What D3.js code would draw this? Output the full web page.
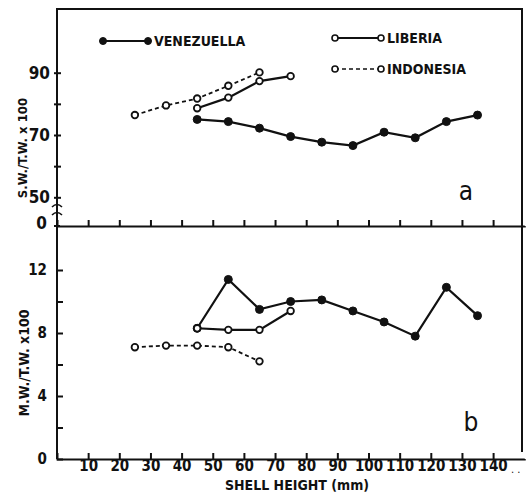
<!DOCTYPE html>
<html>
  <head>
  <title>Shell weight ratios</title>
  </head>
  <body>

  <svg id="svg" width="528" height="497"></svg>

  <script src="https://d3js.org/d3.v7.min.js"></script>
  <script>
        // shell height (mm) for each series
        const venHeights = [45, 55, 65, 75, 85, 95, 105, 115, 125, 135]
        const libHeights = [45, 55, 65, 75]
        const indHeights = [25, 35, 45, 55, 65]

        // panel a : S.W./T.W. x 100
        const venSW = [75.0, 74.3, 72.2, 69.5, 67.7, 66.6, 70.9, 69.1, 74.3, 76.4]
        const libSW = [78.6, 82.0, 87.3, 88.9]
        const indSW = [76.4, 79.5, 81.7, 85.8, 90.1]

        // panel b : M.W./T.W. x 100
        const venMW = [8.3, 11.4, 9.5, 10.0, 10.1, 9.4, 8.7, 7.8, 10.9, 9.1]
        const libMW = [8.3, 8.2, 8.2, 9.4]
        const indMW = [7.1, 7.2, 7.2, 7.1, 6.2]

        const xTicks = [10, 20, 30, 40, 50, 60, 70, 80, 90, 100, 110, 120, 130, 140]
        const topTicks = [50, 60, 70, 80, 90]
        const botTicks = [0, 2, 4, 6, 8, 10, 12]

        const font = "'DejaVu Sans Condensed', 'DejaVu Sans', sans-serif"
        const ink = '#111'

        const svg = d3.select('#svg')
        svg.append('rect').attr('width', 528).attr('height', 497).attr('fill', 'white')

        const x = d3.scaleLinear().domain([0, 150]).range([57, 524.25])
        const yTop = d3.scaleLinear().domain([50, 90]).range([197.3, 72.7])
        const yBot = d3.scaleLinear().domain([0, 12]).range([459, 270])

        const divY = 226
        const axY = 459

        // frame
        svg.append('path')
            .attr('d', `M57,${divY} V9 H522 V452`)
            .attr('fill', 'none').attr('stroke', ink).attr('stroke-width', 2)

        // x axes (ticks point up, inside)
        const xTopAxis = d3.axisBottom(x).tickValues(xTicks).tickSize(-6).tickFormat('')
        svg.append('g').attr('transform', `translate(0,${divY})`).call(xTopAxis)
        const xBotAxis = d3.axisBottom(x).tickValues(xTicks).tickSize(-6).tickPadding(1)
        svg.append('g').attr('class', 'xb').attr('transform', `translate(0,${axY})`).call(xBotAxis)

        // y axis, panel a
        const yTopAxis = d3.axisLeft(yTop).tickValues(topTicks).tickSize(4)
            .tickFormat(d => (d - 50) % 20 === 0 ? d : '')
        const gTop = svg.append('g').attr('class', 'yt').attr('transform', 'translate(57,0)').call(yTopAxis)
        gTop.select('.domain').remove()
        gTop.selectAll('.tick line').attr('x1', -3).attr('x2', 4)

        // y axis, panel b
        const yBotAxis = d3.axisLeft(yBot).tickValues(botTicks).tickSize(-6).tickPadding(10)
            .tickFormat(d => d % 4 === 0 ? d : '')
        const gBot = svg.append('g').attr('class', 'yb').attr('transform', 'translate(57,0)').call(yBotAxis)
        gBot.select('.domain').remove()

        svg.selectAll('.domain').attr('stroke', ink).attr('stroke-width', 2)
            .attr('d', function() { return d3.select(this).attr('d').replace(/V-?6/g, 'V0') })
        svg.selectAll('.tick line').attr('stroke', ink).attr('stroke-width', 2)
        svg.selectAll('.tick text').attr('fill', ink).style('font-family', font).style('font-weight', 'bold')
        svg.selectAll('.xb .tick text').style('font-size', '15px')
        svg.selectAll('.yt .tick text').style('font-size', '17px')
        svg.selectAll('.yb .tick text').style('font-size', '15px')

        // left axis line with break
        svg.append('path')
            .attr('d', `M57,9 V205 M57,214 V${axY}`)
            .attr('stroke', ink).attr('stroke-width', 2).attr('fill', 'none')
        svg.append('path')
            .attr('d', 'M52,207 Q57,202 62,207 M52,215 Q57,210 62,215')
            .attr('stroke', ink).attr('stroke-width', 1.6).attr('fill', 'none')
        svg.append('line').attr('x1', 54).attr('x2', 60).attr('y1', divY).attr('y2', divY)
            .attr('stroke', ink).attr('stroke-width', 2)
        svg.append('text').attr('x', 47).attr('y', divY - 2).text('0')
            .attr('text-anchor', 'end').attr('dominant-baseline', 'middle')
            .style('font-family', font).style('font-weight', 'bold').style('font-size', '17px').attr('fill', ink)
        svg.append('text').attr('x', 511).attr('y', axY + 11).text('. .')
            .attr('dominant-baseline', 'middle')
            .style('font-family', font).style('font-size', '11px').attr('fill', ink)

        // axis titles
        svg.append('text').attr('transform', 'translate(23,148) rotate(-90)')
            .attr('text-anchor', 'middle').attr('dominant-baseline', 'middle')
            .style('font-family', font).style('font-weight', 'bold').style('font-size', '13px')
            .attr('fill', ink).text('S.W./T.W. x 100')
        svg.append('text').attr('transform', 'translate(25,363) rotate(-90)')
            .attr('text-anchor', 'middle').attr('dominant-baseline', 'middle')
            .style('font-family', font).style('font-weight', 'bold').style('font-size', '14px')
            .attr('fill', ink).text('M.W./T.W. x100')
        svg.append('text').attr('x', 297).attr('y', 490)
            .attr('text-anchor', 'middle')
            .style('font-family', font).style('font-weight', 'bold').style('font-size', '14px')
            .attr('fill', ink).text('SHELL HEIGHT (mm)')

        // panel letters
        svg.append('text').attr('x', 466).attr('y', 200).attr('text-anchor', 'middle')
            .style('font-family', font).style('font-size', '26px').attr('fill', ink).text('a')
        svg.append('text').attr('x', 471).attr('y', 431).attr('text-anchor', 'middle')
            .style('font-family', font).style('font-size', '26px').attr('fill', ink).text('b')

        function drawSeries(heights, values, yscale, filled, dashed) {
            const pts = heights.map((h, i) => [h, values[i]])
            const linegen = d3.line()
                .x(d => x(d[0]))
                .y(d => yscale(d[1]))
                .curve(d3.curveLinear)
            svg.append('path')
                .attr('d', linegen(pts))
                .attr('stroke', ink)
                .attr('stroke-width', dashed ? 1.8 : 2.2)
                .attr('stroke-dasharray', dashed ? '4,3' : null)
                .attr('fill', 'none')
            svg.append('g').selectAll('circle').data(pts).join('circle')
                .attr('cx', d => x(d[0]))
                .attr('cy', d => yscale(d[1]))
                .attr('r', filled ? 4 : 3.3)
                .attr('fill', filled ? ink : 'white')
                .attr('stroke', ink)
                .attr('stroke-width', filled ? 1 : 1.8)
        }

        drawSeries(venHeights, venSW, yTop, true, false)
        drawSeries(indHeights, indSW, yTop, false, true)
        drawSeries(libHeights, libSW, yTop, false, false)
        drawSeries(venHeights, venMW, yBot, true, false)
        drawSeries(indHeights, indMW, yBot, false, true)
        drawSeries(libHeights, libMW, yBot, false, false)

        // legend
        function legendItem(x1, x2, y, label, filled, dashed) {
            svg.append('line').attr('x1', x1).attr('x2', x2).attr('y1', y).attr('y2', y)
                .attr('stroke', ink).attr('stroke-width', dashed ? 1.6 : 2)
                .attr('stroke-dasharray', dashed ? '4,3' : null)
            svg.append('g').selectAll('circle').data([x1, x2]).join('circle')
                .attr('cx', d => d).attr('cy', y)
                .attr('r', filled ? 3.5 : 3)
                .attr('fill', filled ? ink : 'white')
                .attr('stroke', ink).attr('stroke-width', filled ? 1 : 1.6)
            svg.append('text').attr('x', x2 + 6).attr('y', y + 1)
                .attr('dominant-baseline', 'middle')
                .style('font-family', font).style('font-weight', 'bold').style('font-size', '14px')
                .attr('fill', ink).text(label)
        }
        legendItem(103, 148, 41, 'VENEZUELLA', true, false)
        legendItem(335, 381, 38, 'LIBERIA', false, false)
        legendItem(335, 381, 69, 'INDONESIA', false, true)
  </script>
  <style>
    body, html {
      margin: 0;
      padding: 0;
      background: white;
    }
    #svg {
      display: block;
    }
  </style>
  </body>
</html>
